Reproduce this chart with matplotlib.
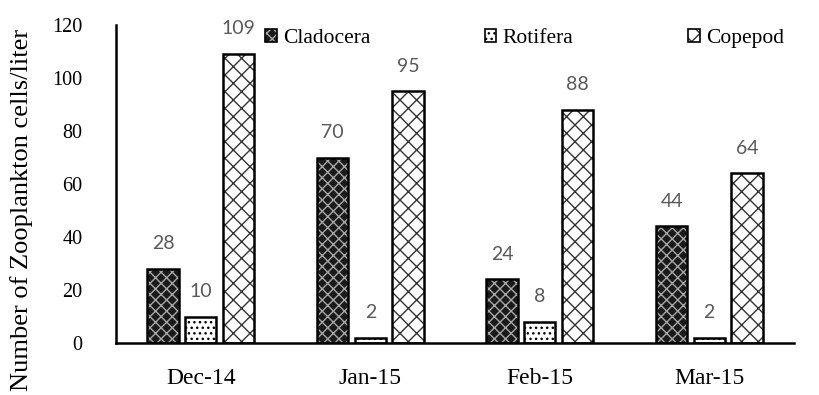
import matplotlib
matplotlib.use("Agg")
import matplotlib.pyplot as plt
from matplotlib.patches import Patch
from matplotlib.legend_handler import HandlerTuple
import numpy as np

months = ["Dec-14", "Jan-15", "Feb-15", "Mar-15"]
series_names = ["Cladocera", "Rotifera", "Copepod"]
cladocera = [28, 70, 24, 44]
rotifera = [10, 2, 8, 2]
copepod = [109, 95, 88, 64]

serif = "Liberation Serif"
label_font = "Lato"

plt.rcParams["hatch.linewidth"] = 1.0

fig = plt.figure(figsize=(8.2, 3.95), dpi=100)
ax = fig.add_axes([0.1415, 0.1316, 0.8268, 0.8051])

x = np.arange(len(months))
width = 0.185
step = 0.222

styles = [
    dict(face="#1a1a1a", hatch_col="#a8a8a8", hatch="xxx"),
    dict(face="white", hatch_col="black", hatch="..."),
    dict(face="white", hatch_col="#333333", hatch="xx"),
]

handles = []
for i, (vals, st) in enumerate(zip([cladocera, rotifera, copepod], styles)):
    pos = x + (i - 1) * step
    ax.bar(pos, vals, width, color=st["face"], edgecolor=st["hatch_col"],
           hatch=st["hatch"], linewidth=0, zorder=2)
    bars = ax.bar(pos, vals, width, facecolor="none", edgecolor="black",
                  linewidth=1.8, zorder=3)
    for b, v in zip(bars, vals):
        ax.text(b.get_x() + b.get_width() / 2, v + 9.5, str(v), ha="center",
                va="center", fontsize=14, color="#595959", family=label_font)
    fill = Patch(facecolor=st["face"], edgecolor=st["hatch_col"],
                 hatch=st["hatch"], linewidth=0)
    outline = Patch(facecolor="none", edgecolor="black", linewidth=1.2)
    handles.append((fill, outline))

ax.set_xlim(-0.5, 3.5)
ax.set_ylim(0, 120)
ax.set_yticks(range(0, 121, 20))
ax.set_xticks(x)
ax.set_xticklabels(months, fontsize=17, family=serif)
for t in ax.get_yticklabels():
    t.set_fontsize(14.5)
    t.set_family(serif)
ax.tick_params(axis="both", length=0)
ax.tick_params(axis="x", pad=18)
ax.tick_params(axis="y", pad=24)
for s in ["top", "right"]:
    ax.spines[s].set_visible(False)
for s in ["left", "bottom"]:
    ax.spines[s].set_linewidth(1.8)
    ax.spines[s].set_color("black")

ax.set_ylabel("Number of Zooplankton cells/liter", fontsize=19, family=serif)
ax.yaxis.set_label_coords(-0.1224, 0.418)

fig.legend(handles, series_names, loc="center left", bbox_to_anchor=(0.323, 0.9025),
           ncol=3, frameon=False, prop={"family": serif, "size": 15.5},
           handler_map={tuple: HandlerTuple(ndivide=1, pad=0)},
           handlelength=0.55, handleheight=0.55, handletextpad=0.3, columnspacing=5.3,
           borderaxespad=0, borderpad=0)

fig.savefig("out.png", dpi=100)
